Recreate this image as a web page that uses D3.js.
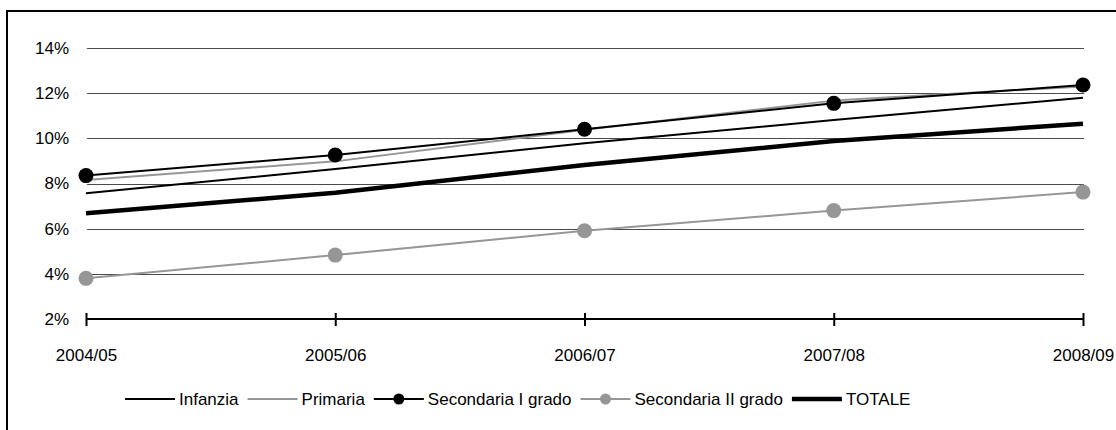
<!DOCTYPE html>
<html>
<head>
<meta charset="utf-8">
<script src="https://cdn.jsdelivr.net/npm/d3@7"></script>
<style>
  html, body { margin: 0; padding: 0; background: #fff; }
  svg { display: block; }
  text { font-family: "Liberation Sans", Arial, sans-serif; font-size: 17px; fill: #000; }
</style>
</head>
<body>
<svg id="chart" width="1116" height="430"></svg>
<script>
// School years on the horizontal axis
const years = ["2004/05", "2005/06", "2006/07", "2007/08", "2008/09"];

// Share per school level (percent)
const infanzia     = [7.57, 8.64, 9.78, 10.81, 11.80];
const primaria     = [8.15, 8.98, 10.38, 11.67, 12.30];
const secondariaI  = [8.35, 9.26, 10.40, 11.55, 12.36];
const secondariaII = [3.80, 4.83, 5.91, 6.80, 7.62];
const totale       = [6.68, 7.59, 8.82, 9.88, 10.65];

// Y tick values (percent)
const yTicks = [2, 4, 6, 8, 10, 12, 14];

const seriesNames = ["Infanzia", "Primaria", "Secondaria I grado", "Secondaria II grado", "TOTALE"];

const series = [
  { name: seriesNames[0], values: infanzia,     color: "#000000", width: 2,   marker: false },
  { name: seriesNames[1], values: primaria,     color: "#969696", width: 2,   marker: false },
  { name: seriesNames[2], values: secondariaI,  color: "#000000", width: 2,   marker: true  },
  { name: seriesNames[3], values: secondariaII, color: "#969696", width: 2,   marker: true  },
  { name: seriesNames[4], values: totale,       color: "#000000", width: 4.5, marker: false }
];

const svg = d3.select("#chart");

// Outer frame
svg.append("rect")
  .attr("x", 7).attr("y", 11)
  .attr("width", 1130).attr("height", 440)
  .attr("fill", "none").attr("stroke", "#000").attr("stroke-width", 2);

const x = d3.scalePoint().domain(years).range([86, 1083]);
const y = d3.scaleLinear().domain([2, 14]).range([319, 48]);

// Horizontal gridlines
svg.append("g").selectAll("line")
  .data(yTicks.filter(t => t > 2))
  .join("line")
  .attr("x1", 87).attr("x2", 1084)
  .attr("y1", d => Math.round(y(d)) + 0.5).attr("y2", d => Math.round(y(d)) + 0.5)
  .attr("stroke", "#4a4a4a").attr("stroke-width", 1);

// Y axis labels
const yAxis = d3.axisLeft(y).tickValues(yTicks).tickFormat(d => d + "%").tickSize(0).tickPadding(0);
const gy = svg.append("g").attr("transform", "translate(69,0)").call(yAxis);
gy.select(".domain").remove();
gy.attr("font-size", null).attr("font-family", null);

// X axis at the 2% baseline with ticks crossing the line
const xAxis = d3.axisBottom(x).tickSize(0).tickPadding(0);
const gx = svg.append("g").attr("transform", `translate(0,${y(2)})`).call(xAxis);
gx.select(".domain").remove();
gx.attr("font-size", null).attr("font-family", null);
gx.selectAll("text").attr("dy", null).attr("y", 42);
gx.append("line")
  .attr("x1", x(years[0])).attr("x2", x(years[years.length - 1]))
  .attr("y1", 0).attr("y2", 0)
  .attr("stroke", "#000").attr("stroke-width", 2);
gx.selectAll(".tick").append("line")
  .attr("y1", -6).attr("y2", 7)
  .attr("stroke", "#000").attr("stroke-width", 2);

// Series lines
const line = d3.line().x((d, i) => x(years[i])).y(d => y(d));

series.forEach(s => {
  svg.append("path")
    .attr("d", line(s.values))
    .attr("fill", "none")
    .attr("stroke", s.color)
    .attr("stroke-width", s.width)
    .attr("stroke-linejoin", "round");
  if (s.marker) {
    svg.append("g").selectAll("circle")
      .data(s.values)
      .join("circle")
      .attr("cx", (d, i) => x(years[i]))
      .attr("cy", d => y(d))
      .attr("r", 7.5)
      .attr("fill", s.color);
  }
});

// Legend: items laid out left to right
const ly = 399;
const lg = svg.append("g");
let lx = 125;
series.forEach(s => {
  const g = lg.append("g").attr("transform", `translate(${lx},${ly})`);
  g.append("line")
    .attr("x1", 0).attr("x2", 50).attr("y1", 0).attr("y2", 0)
    .attr("stroke", s.color).attr("stroke-width", s.width);
  if (s.marker) {
    g.append("circle").attr("cx", 25).attr("cy", 0).attr("r", 5.5).attr("fill", s.color);
  }
  const t = g.append("text").attr("x", 54).attr("y", 0).attr("dy", "0.35em").text(s.name);
  lx += 54 + t.node().getComputedTextLength() + 9;
});
</script>
</body>
</html>
